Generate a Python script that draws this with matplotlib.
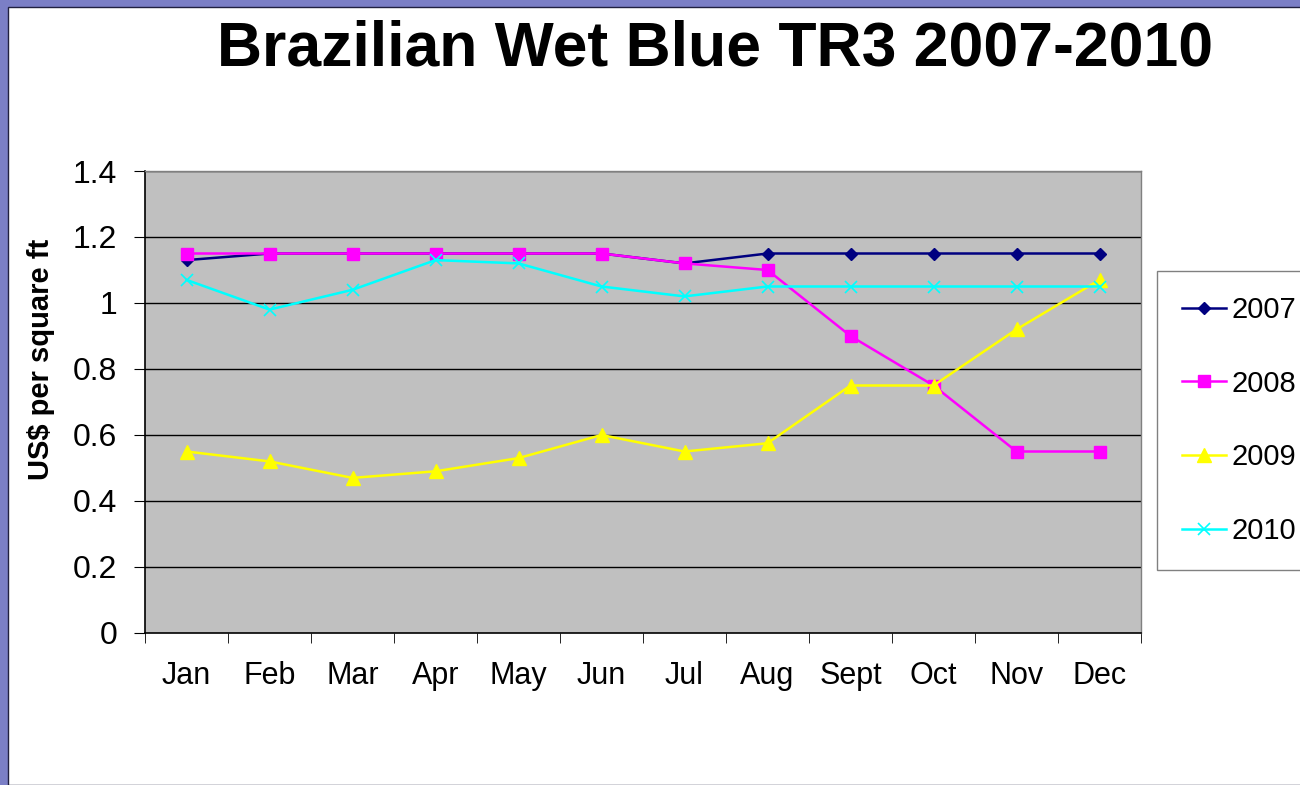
import matplotlib
matplotlib.use("Agg")
import matplotlib.pyplot as plt
from matplotlib.patches import Rectangle

months = ["Jan", "Feb", "Mar", "Apr", "May", "Jun", "Jul", "Aug", "Sept", "Oct", "Nov", "Dec"]
y2007 = [1.13, 1.15, 1.15, 1.15, 1.15, 1.15, 1.12, 1.15, 1.15, 1.15, 1.15, 1.15]
y2008 = [1.15, 1.15, 1.15, 1.15, 1.15, 1.15, 1.12, 1.10, 0.90, 0.75, 0.55, 0.55]
y2009 = [0.55, 0.52, 0.47, 0.49, 0.53, 0.60, 0.55, 0.575, 0.75, 0.75, 0.92, 1.07]
y2010 = [1.07, 0.98, 1.04, 1.13, 1.12, 1.05, 1.02, 1.05, 1.05, 1.05, 1.05, 1.05]
yticks = [0, 0.2, 0.4, 0.6, 0.8, 1.0, 1.2, 1.4]
ytick_labels = ["0", "0.2", "0.4", "0.6", "0.8", "1", "1.2", "1.4"]

plt.rcParams['font.family'] = ['Liberation Sans', 'DejaVu Sans']

W, H = 1300, 785
fig = plt.figure(figsize=(W / 100, H / 100), dpi=100)
fig.patch.set_facecolor("#7b7fc6")
fig.patches.append(Rectangle((8 / W, 0), 1, 1 - 7 / H, transform=fig.transFigure,
                             facecolor="white", edgecolor="#202040", linewidth=1.0, zorder=-10))

ax = fig.add_axes([145 / W, 1 - 633 / H, (1141 - 145) / W, (633 - 171) / H])
ax.set_zorder(1)
ax.set_facecolor("#c0c0c0")

x = list(range(len(months)))
ax.plot(x, y2007, color="#000080", marker="D", markersize=6, linewidth=1.8, label="2007", zorder=3)
ax.plot(x, y2008, color="#ff00ff", marker="s", markersize=9, linewidth=1.8, label="2008", zorder=4)
ax.plot(x, y2009, color="#ffff00", marker="^", markersize=10, linewidth=1.8, label="2009", zorder=5)
ax.plot(x, y2010, color="#00ffff", marker="x", markersize=9, markeredgewidth=1.2, linewidth=1.8, label="2010", zorder=6)

ax.set_xlim(-0.5, len(months) - 0.5)
ax.set_ylim(0, 1.4)
ax.set_yticks(yticks)
ax.set_yticklabels(ytick_labels, fontsize=23)
ax.set_xticks(x)
ax.set_xticklabels(months, fontsize=22)
ax.set_xticks([i - 0.5 for i in range(len(months) + 1)], minor=True)
ax.tick_params(axis="x", which="major", length=0, pad=20)
ax.tick_params(axis="x", which="minor", length=7, direction="out", color="black")
ax.tick_params(axis="y", length=8, direction="out", pad=12)
for yv in yticks[1:]:
    ax.axhline(yv, color="black", linewidth=1.0, zorder=1)

for s in ["top", "right"]:
    ax.spines[s].set_color("#808080")
    ax.spines[s].set_linewidth(1.0)
for s in ["left", "bottom"]:
    ax.spines[s].set_color("black")
    ax.spines[s].set_linewidth(1.2)

fig.text(41 / W, 1 - 359 / H, "US$ per square ft", rotation=90, ha="center", va="center",
         fontsize=21, fontweight="bold")

fig.text(715 / W, 1 - 49 / H, "Brazilian Wet Blue TR3 2007-2010", ha="center", va="center",
         fontsize=45, fontweight="bold")

leg = ax.legend(loc="upper left", bbox_to_anchor=(1157 / W, 1 - 271 / H),
                bbox_transform=fig.transFigure, fontsize=21, frameon=True, fancybox=False,
                labelspacing=1.57, handlelength=1.5, handletextpad=0.2, borderpad=0.85,
                borderaxespad=0)
leg.get_frame().set_edgecolor("#606060")
leg.get_frame().set_linewidth(1.0)

fig.savefig("out.png", dpi=100)
